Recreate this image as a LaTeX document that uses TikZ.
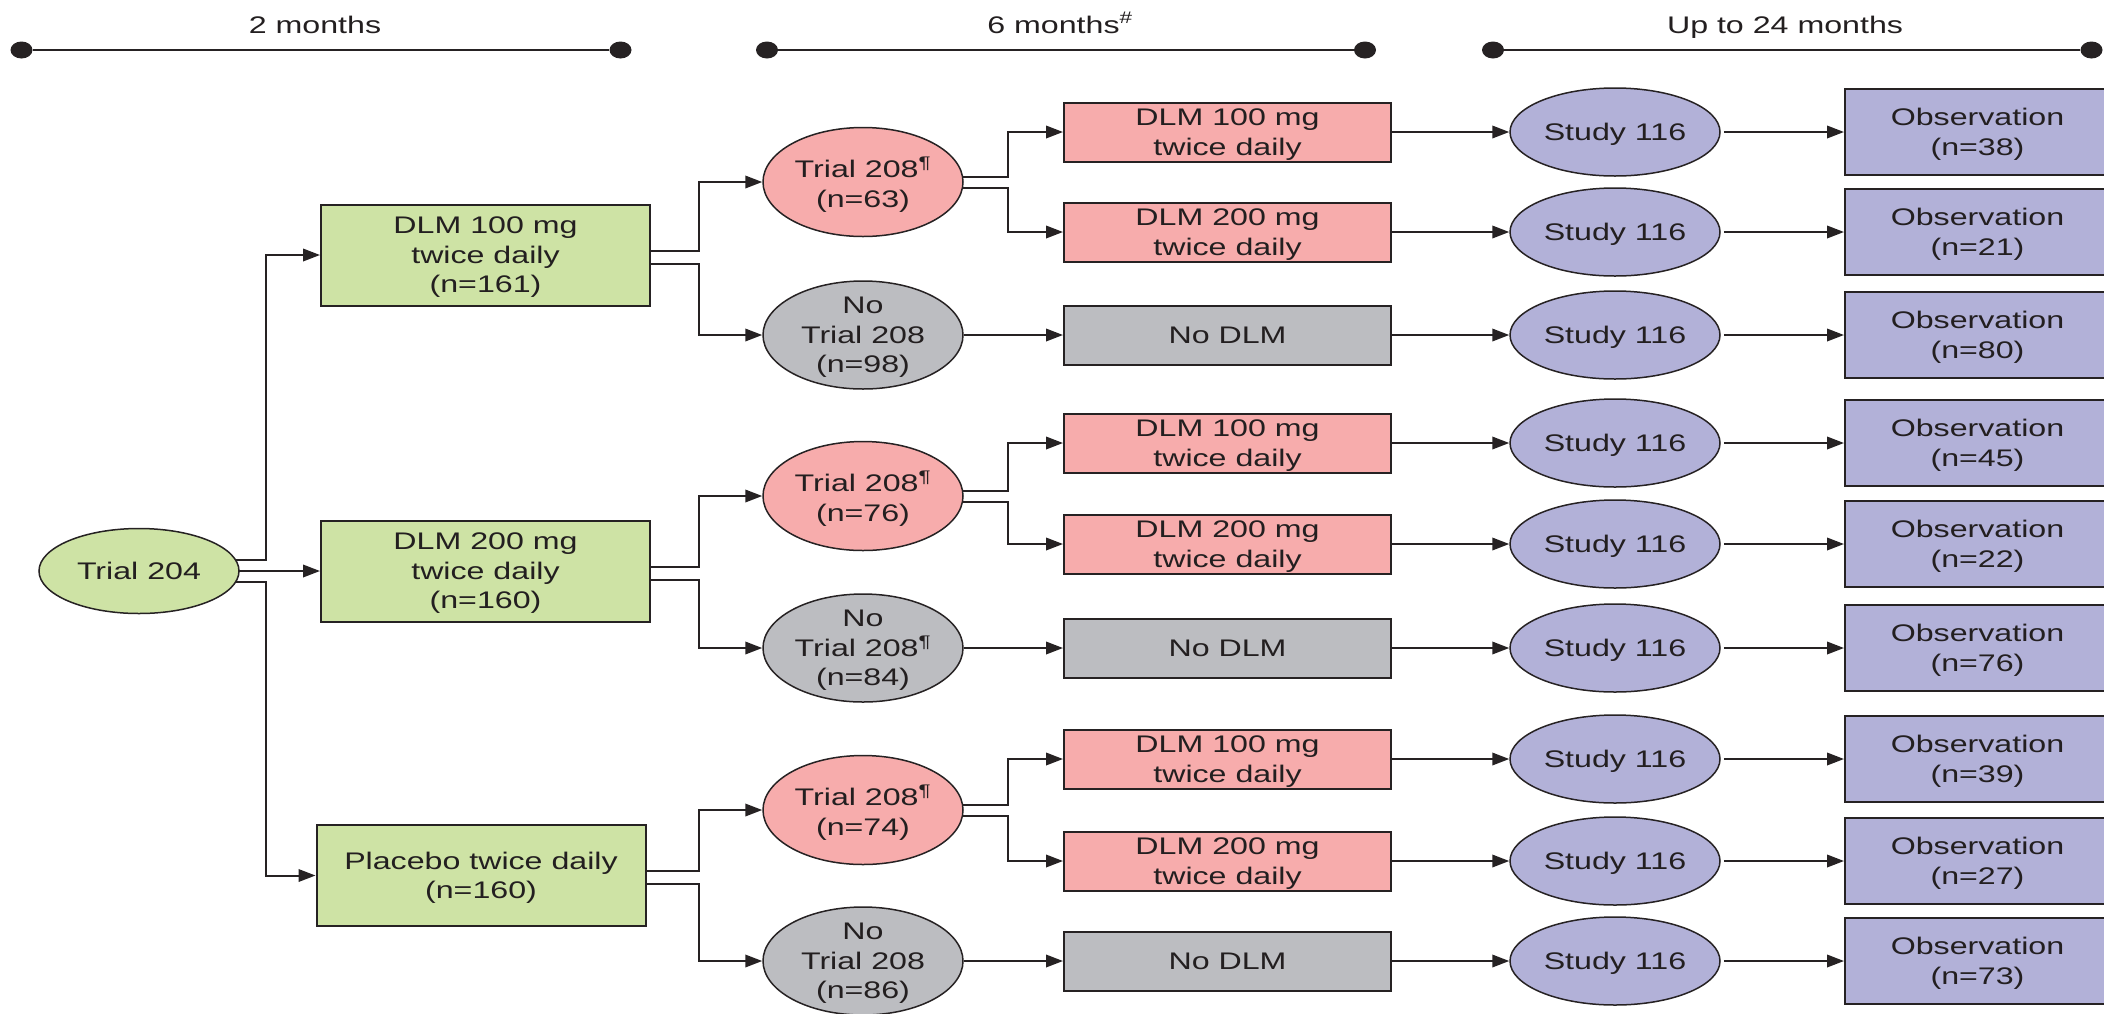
\documentclass[tikz,border=0pt]{standalone}
\usepackage{fontspec}
\setmainfont{Liberation Sans}[FakeStretch=1.34]
\usetikzlibrary{arrows.meta,shapes.geometric,backgrounds}
\definecolor{greenc}{RGB}{206,227,165}
\definecolor{pinkc}{RGB}{247,172,172}
\definecolor{greyc}{RGB}{188,189,193}
\definecolor{purplec}{RGB}{178,177,216}
\definecolor{linec}{RGB}{38,34,35}
\definecolor{txtc}{RGB}{35,31,32}
\begin{document}
\begin{tikzpicture}[x=1pt,y=-1pt,
  txt/.style={font=\fontsize{24}{29.5}\selectfont,text=txtc,align=center,text depth=0pt},
  boxbase/.style={txt,rectangle,draw=linec,line width=2pt,inner sep=0pt},
  gbox/.style={boxbase,fill=greenc,minimum width=329pt,minimum height=101pt},
  pbox/.style={boxbase,fill=pinkc,minimum width=327pt,minimum height=59pt},
  nbox/.style={boxbase,fill=greyc,minimum width=327pt,minimum height=59pt},
  obox/.style={boxbase,fill=purplec,minimum width=265pt,minimum height=86pt},
  ellbase/.style={txt,ellipse,draw=linec,line width=1.5pt,inner xsep=0pt,inner ysep=-6pt},
  gell/.style={ellbase,fill=greenc,minimum width=200pt,minimum height=85pt},
  pell/.style={ellbase,fill=pinkc,minimum width=200pt,minimum height=109pt},
  nell/.style={ellbase,fill=greyc,minimum width=200pt,minimum height=108pt},
  sell/.style={ellbase,fill=purplec,minimum width=210pt,minimum height=88pt},
  conn/.style={draw=linec,line width=2pt,-{Triangle[length=17pt,width=12.5pt]}},
  tline/.style={draw=linec,line width=2pt},
  tdot/.style={ellipse,fill=linec,minimum width=22pt,minimum height=17pt,inner sep=0pt},
  lab/.style={txt,anchor=base,inner sep=0pt}
]
\useasboundingbox (0,0) rectangle (2104,1013);
\clip (0,0) rectangle (2104,1013);

% timelines
\node[tdot] (d1a) at (21.5,50) {};
\node[tdot] (d1b) at (620.5,50) {};
\node[tdot] (d2a) at (767,50) {};
\node[tdot] (d2b) at (1365,50) {};
\node[tdot] (d3a) at (1493,50) {};
\node[tdot] (d3b) at (2091.5,50) {};
\node[lab] (l1) at (315,33) {2 months};
\node[lab] (l2) at (1060,33) {6 months\textsuperscript{\#}};
\node[lab] (l3) at (1785,33) {Up to 24 months};

% first stage
\node[gell] (t204) at (139,571) {Trial 204};
\node[gbox] (g1) at (485.5,255) {DLM 100 mg\\twice daily\\(n=161)};
\node[gbox] (g2) at (485.5,571) {DLM 200 mg\\twice daily\\(n=160)};
\node[gbox] (g3) at (481,875.5) {Placebo twice daily\\(n=160)};

% second stage
\node[pell] (e1) at (863,182) {Trial 208\textsuperscript{¶}\\(n=63)};
\node[nell] (n1) at (863,335) {No\\Trial 208\\(n=98)};
\node[pell] (e2) at (863,496) {Trial 208\textsuperscript{¶}\\(n=76)};
\node[nell] (n2) at (863,648) {No\\Trial 208\textsuperscript{¶}\\(n=84)};
\node[pell] (e3) at (863,810) {Trial 208\textsuperscript{¶}\\(n=74)};
\node[nell] (n3) at (863,961) {No\\Trial 208\\(n=86)};

\node[pbox] (p1) at (1227.5,132) {DLM 100 mg\\twice daily};
\node[pbox] (p2) at (1227.5,232) {DLM 200 mg\\twice daily};
\node[nbox] (q1) at (1227.5,335) {No DLM};
\node[pbox] (p3) at (1227.5,443) {DLM 100 mg\\twice daily};
\node[pbox] (p4) at (1227.5,544) {DLM 200 mg\\twice daily};
\node[nbox] (q2) at (1227.5,648) {No DLM};
\node[pbox] (p5) at (1227.5,759) {DLM 100 mg\\twice daily};
\node[pbox] (p6) at (1227.5,861) {DLM 200 mg\\twice daily};
\node[nbox] (q3) at (1227.5,961) {No DLM};

% third stage
\node[sell] (s1) at (1615,132) {Study 116};
\node[sell] (s2) at (1615,232) {Study 116};
\node[sell] (s3) at (1615,335) {Study 116};
\node[sell] (s4) at (1615,443) {Study 116};
\node[sell] (s5) at (1615,544) {Study 116};
\node[sell] (s6) at (1615,648) {Study 116};
\node[sell] (s7) at (1615,759) {Study 116};
\node[sell] (s8) at (1615,861) {Study 116};
\node[sell] (s9) at (1615,961) {Study 116};

\node[obox] (o1) at (1977.5,132) {Observation\\(n=38)};
\node[obox] (o2) at (1977.5,232) {Observation\\(n=21)};
\node[obox] (o3) at (1977.5,335) {Observation\\(n=80)};
\node[obox] (o4) at (1977.5,443) {Observation\\(n=45)};
\node[obox] (o5) at (1977.5,544) {Observation\\(n=22)};
\node[obox] (o6) at (1977.5,648) {Observation\\(n=76)};
\node[obox] (o7) at (1977.5,759) {Observation\\(n=39)};
\node[obox] (o8) at (1977.5,861) {Observation\\(n=27)};
\node[obox] (o9) at (1977.5,961) {Observation\\(n=73)};

\begin{scope}[on background layer]
  \draw[tline] (d1a) -- (d1b);
  \draw[tline] (d2a) -- (d2b);
  \draw[tline] (d3a) -- (d3b);
  % Trial 204 to arms
  \draw[conn] ([yshift=11pt]t204.center) -| ([xshift=-54pt]g1.west) -- (g1.west);
  \draw[conn] (t204.center) -- (g2.west);
  \draw[conn] ([yshift=-11pt]t204.center) -| ([xshift=-49.5pt]g3.west) -- (g3.west);
  % arms to trial 208
  \draw[conn] ([yshift=4.5pt]g1.east) -| ([xshift=-63pt]e1.west) -- (e1.west);
  \draw[conn] ([yshift=-8.5pt]g1.east) -| ([xshift=-63pt]n1.west) -- (n1.west);
  \draw[conn] ([yshift=4.5pt]g2.east) -| ([xshift=-63pt]e2.west) -- (e2.west);
  \draw[conn] ([yshift=-8.5pt]g2.east) -| ([xshift=-63pt]n2.west) -- (n2.west);
  \draw[conn] ([yshift=4.5pt]g3.east) -| ([xshift=-63pt]e3.west) -- (e3.west);
  \draw[conn] ([yshift=-8.5pt]g3.east) -| ([xshift=-63pt]n3.west) -- (n3.west);
  % trial 208 to doses
  \draw[conn] ([yshift=5.5pt]e1.center) -| ([xshift=-55pt]p1.west) -- (p1.west);
  \draw[conn] ([yshift=-5.5pt]e1.center) -| ([xshift=-55pt]p2.west) -- (p2.west);
  \draw[conn] ([yshift=5.5pt]e2.center) -| ([xshift=-55pt]p3.west) -- (p3.west);
  \draw[conn] ([yshift=-5.5pt]e2.center) -| ([xshift=-55pt]p4.west) -- (p4.west);
  \draw[conn] ([yshift=5.5pt]e3.center) -| ([xshift=-55pt]p5.west) -- (p5.west);
  \draw[conn] ([yshift=-5.5pt]e3.center) -| ([xshift=-55pt]p6.west) -- (p6.west);
  \draw[conn] (n1) -- (q1);
  \draw[conn] (n2) -- (q2);
  \draw[conn] (n3) -- (q3);
  % to study 116
  \foreach \a/\b in {p1/s1,p2/s2,q1/s3,p3/s4,p4/s5,q2/s6,p5/s7,p6/s8,q3/s9}
    \draw[conn] (\a) -- (\b);
  % to observation
  \foreach \i in {1,...,9}
    \draw[conn,shorten <=3pt] (s\i) -- (o\i);
\end{scope}
\end{tikzpicture}
\end{document}
